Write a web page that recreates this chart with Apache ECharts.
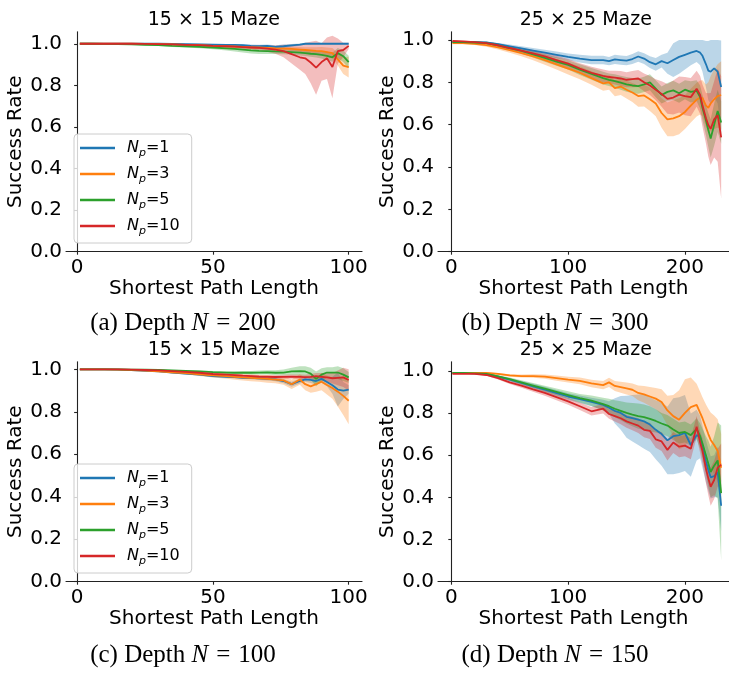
<!DOCTYPE html>
<html><head><meta charset="utf-8">
<script src="https://cdn.jsdelivr.net/npm/echarts@6/dist/echarts.min.js"></script>
<style>html,body{margin:0;padding:0;background:#fff}#c{width:729px;height:673px}</style>
</head><body><div id="c"></div>
<script>
// ---------- data ----------
const SERIES_NAMES = ['Np=1', 'Np=3', 'Np=5', 'Np=10'];
const COLORS = ['#1f77b4', '#ff7f0e', '#2ca02c', '#d62728'];
const Y_TICKS = [0, 0.2, 0.4, 0.6, 0.8, 1.0];
const X_TICKS_15 = [0, 50, 100];
const X_TICKS_25 = [0, 100, 200];
const PANEL_TITLES = ['15 × 15 Maze', '25 × 25 Maze', '15 × 15 Maze', '25 × 25 Maze'];
const CAPTION_LABELS = ['(a)', '(b)', '(c)', '(d)'];
const CAPTION_DEPTHS = ['200', '300', '100', '150'];

const X_15 = [1,5,10,15,20,25,30,35,40,45,50,55,58,61,64,67,70,73,76,79,82,84,86,88,90,92,94,96,98,100];
const X_25 = [1,10,20,30,40,50,60,70,80,90,100,110,120,130,135,140,145,150,155,160,165,170,175,180,185,190,195,200,205,210,213,215,218,220,222,225,228,231];

// (a) 15x15, depth 200
const A_NP1  = [1,1,1,1,1,1,1,0.999,0.998,0.997,0.996,0.995,0.994,0.993,0.99,0.988,0.99,0.985,0.988,0.992,0.996,1,1,1,1,1,1,1,1,1];
const A_NP1_ERR = [0,0,0,0,0,0,0.001,0.002,0.002,0.003,0.003,0.004,0.004,0.005,0.006,0.007,0.007,0.008,0.008,0.007,0.005,0.003,0.002,0,0,0,0,0,0,0];
const A_NP3  = [1,1,1,1,1,0.999,0.998,0.997,0.995,0.993,0.99,0.988,0.987,0.985,0.983,0.982,0.98,0.978,0.977,0.975,0.972,0.97,0.968,0.966,0.965,0.96,0.955,0.925,0.895,0.888];
const A_NP3_ERR = [0,0,0,0,0,0.001,0.002,0.003,0.003,0.004,0.005,0.005,0.006,0.006,0.007,0.007,0.008,0.008,0.009,0.01,0.012,0.013,0.015,0.017,0.02,0.022,0.025,0.03,0.04,0.05];
const A_NP5  = [1,1,0.999,0.998,0.997,0.995,0.993,0.99,0.988,0.985,0.982,0.978,0.975,0.972,0.968,0.966,0.965,0.963,0.962,0.96,0.957,0.955,0.952,0.95,0.947,0.942,0.935,0.955,0.94,0.912];
const A_NP5_ERR = [0,0,0.001,0.001,0.002,0.003,0.004,0.005,0.006,0.007,0.008,0.01,0.012,0.014,0.015,0.015,0.014,0.012,0.012,0.012,0.013,0.014,0.015,0.016,0.018,0.02,0.022,0.025,0.028,0.03];
const A_NP10 = [1,1,1,1,1,0.999,0.998,0.997,0.995,0.993,0.99,0.988,0.986,0.984,0.982,0.98,0.977,0.972,0.965,0.95,0.935,0.93,0.91,0.885,0.912,0.93,0.888,0.965,0.97,0.99];
const A_NP10_ERR = [0,0,0,0,0,0.001,0.002,0.003,0.004,0.005,0.006,0.007,0.008,0.009,0.01,0.012,0.015,0.02,0.03,0.045,0.06,0.075,0.1,0.13,0.09,0.1,0.15,0.06,0.035,0.015];

// (b) 25x25, depth 300
const B_NP1  = [0.99,0.99,0.99,0.988,0.98,0.97,0.96,0.95,0.94,0.93,0.92,0.912,0.905,0.905,0.9,0.908,0.905,0.902,0.91,0.922,0.912,0.895,0.885,0.9,0.89,0.905,0.92,0.93,0.94,0.948,0.94,0.925,0.885,0.855,0.85,0.866,0.85,0.778];
const B_NP1_ERR = [0.003,0.003,0.003,0.004,0.006,0.008,0.01,0.012,0.014,0.015,0.016,0.018,0.02,0.02,0.02,0.022,0.022,0.022,0.024,0.025,0.025,0.028,0.03,0.03,0.05,0.08,0.08,0.07,0.06,0.052,0.06,0.075,0.11,0.14,0.15,0.134,0.15,0.22];
const B_NP3  = [0.985,0.985,0.982,0.976,0.965,0.952,0.938,0.922,0.905,0.885,0.865,0.845,0.82,0.795,0.8,0.772,0.78,0.765,0.752,0.735,0.738,0.72,0.7,0.655,0.625,0.63,0.64,0.66,0.69,0.718,0.728,0.725,0.69,0.68,0.7,0.72,0.735,0.74];
const B_NP3_ERR = [0.005,0.005,0.006,0.008,0.01,0.012,0.015,0.018,0.022,0.025,0.028,0.03,0.032,0.035,0.035,0.038,0.04,0.042,0.045,0.05,0.052,0.055,0.06,0.07,0.08,0.085,0.085,0.08,0.08,0.08,0.08,0.085,0.1,0.12,0.13,0.14,0.15,0.16];
const B_NP5  = [0.99,0.99,0.988,0.985,0.975,0.962,0.948,0.932,0.915,0.898,0.882,0.86,0.84,0.82,0.812,0.806,0.798,0.79,0.785,0.782,0.79,0.8,0.77,0.74,0.755,0.762,0.748,0.765,0.755,0.76,0.73,0.68,0.62,0.575,0.535,0.6,0.665,0.61];
const B_NP5_ERR = [0.003,0.003,0.004,0.006,0.008,0.01,0.012,0.015,0.018,0.02,0.022,0.025,0.028,0.03,0.03,0.032,0.033,0.035,0.035,0.036,0.036,0.038,0.04,0.04,0.042,0.045,0.045,0.045,0.05,0.05,0.055,0.06,0.07,0.08,0.09,0.1,0.1,0.1];
const B_NP10 = [0.995,0.993,0.99,0.985,0.975,0.962,0.95,0.937,0.922,0.905,0.888,0.865,0.845,0.83,0.825,0.822,0.818,0.812,0.815,0.818,0.8,0.785,0.765,0.745,0.722,0.728,0.742,0.735,0.73,0.77,0.74,0.69,0.63,0.598,0.58,0.625,0.645,0.54];
const B_NP10_ERR = [0.003,0.003,0.004,0.006,0.008,0.01,0.012,0.015,0.018,0.02,0.022,0.025,0.028,0.03,0.03,0.032,0.035,0.035,0.038,0.04,0.042,0.045,0.05,0.06,0.07,0.08,0.085,0.09,0.09,0.085,0.09,0.1,0.12,0.15,0.17,0.18,0.22,0.29];

// (c) 15x15, depth 100
const C_NP1  = [1,1,1,0.999,0.997,0.993,0.99,0.985,0.98,0.975,0.968,0.965,0.963,0.96,0.96,0.958,0.955,0.953,0.945,0.93,0.945,0.953,0.95,0.945,0.955,0.94,0.925,0.905,0.9,0.905];
const C_NP1_ERR = [0,0,0,0.001,0.002,0.002,0.003,0.003,0.004,0.004,0.005,0.005,0.006,0.006,0.007,0.008,0.008,0.009,0.01,0.012,0.012,0.012,0.014,0.016,0.018,0.02,0.04,0.08,0.04,0.02];
const C_NP3  = [1,1,1,0.999,0.997,0.994,0.99,0.986,0.982,0.977,0.972,0.968,0.965,0.962,0.96,0.958,0.955,0.952,0.948,0.93,0.952,0.93,0.92,0.93,0.942,0.926,0.912,0.895,0.875,0.852];
const C_NP3_ERR = [0,0,0,0.001,0.002,0.003,0.004,0.005,0.006,0.008,0.01,0.012,0.014,0.015,0.016,0.017,0.018,0.018,0.02,0.022,0.025,0.028,0.03,0.035,0.04,0.045,0.05,0.07,0.09,0.11];
const C_NP5  = [1,1,1,1,0.999,0.998,0.997,0.995,0.993,0.99,0.987,0.985,0.984,0.985,0.984,0.985,0.986,0.984,0.985,0.99,0.992,0.99,0.98,0.955,0.975,0.985,0.985,0.985,0.975,0.962];
const C_NP5_ERR = [0,0,0,0,0.001,0.001,0.002,0.002,0.003,0.004,0.005,0.006,0.006,0.007,0.008,0.009,0.01,0.012,0.014,0.018,0.022,0.025,0.028,0.035,0.03,0.025,0.025,0.03,0.03,0.025];
const C_NP10 = [1,1,1,1,0.999,0.997,0.995,0.992,0.988,0.984,0.978,0.975,0.973,0.97,0.968,0.966,0.965,0.964,0.965,0.966,0.965,0.963,0.965,0.968,0.965,0.962,0.958,0.96,0.962,0.95];
const C_NP10_ERR = [0,0,0,0,0.001,0.002,0.003,0.003,0.004,0.004,0.005,0.005,0.006,0.006,0.007,0.007,0.008,0.008,0.009,0.01,0.011,0.012,0.013,0.015,0.018,0.02,0.025,0.035,0.045,0.05];

// (d) 25x25, depth 150
const D_NP1  = [0.99,0.99,0.988,0.985,0.972,0.958,0.942,0.926,0.91,0.894,0.878,0.865,0.852,0.838,0.825,0.81,0.8,0.782,0.775,0.768,0.76,0.745,0.72,0.7,0.67,0.69,0.695,0.705,0.648,0.695,0.685,0.64,0.57,0.53,0.495,0.5,0.52,0.36];
const D_NP1_ERR = [0.002,0.002,0.003,0.004,0.006,0.008,0.01,0.012,0.014,0.015,0.016,0.018,0.02,0.025,0.03,0.06,0.08,0.1,0.11,0.12,0.13,0.13,0.14,0.15,0.16,0.18,0.18,0.18,0.15,0.12,0.1,0.1,0.1,0.1,0.1,0.1,0.12,0.12];
const D_NP3  = [0.99,0.99,0.99,0.99,0.985,0.978,0.975,0.975,0.972,0.965,0.958,0.952,0.94,0.932,0.945,0.928,0.922,0.916,0.91,0.895,0.888,0.878,0.868,0.852,0.812,0.785,0.768,0.8,0.828,0.838,0.8,0.775,0.73,0.7,0.672,0.648,0.62,0.54];
const D_NP3_ERR = [0.003,0.003,0.003,0.004,0.005,0.006,0.007,0.008,0.01,0.012,0.014,0.016,0.018,0.02,0.022,0.024,0.026,0.028,0.03,0.035,0.04,0.045,0.05,0.06,0.07,0.1,0.14,0.16,0.14,0.1,0.1,0.1,0.11,0.12,0.13,0.14,0.15,0.16];
const D_NP5  = [0.99,0.99,0.988,0.985,0.973,0.96,0.945,0.93,0.915,0.9,0.885,0.87,0.858,0.842,0.832,0.82,0.81,0.8,0.792,0.785,0.78,0.772,0.762,0.75,0.74,0.722,0.705,0.71,0.695,0.725,0.69,0.655,0.6,0.56,0.52,0.55,0.575,0.42];
const D_NP5_ERR = [0.002,0.002,0.003,0.004,0.006,0.008,0.01,0.012,0.014,0.016,0.018,0.02,0.025,0.03,0.035,0.04,0.045,0.05,0.055,0.06,0.06,0.06,0.055,0.05,0.05,0.05,0.05,0.05,0.05,0.05,0.06,0.07,0.09,0.11,0.12,0.14,0.18,0.32];
const D_NP10 = [0.985,0.985,0.985,0.98,0.965,0.945,0.93,0.912,0.895,0.875,0.855,0.832,0.808,0.82,0.795,0.785,0.775,0.76,0.75,0.74,0.72,0.715,0.675,0.665,0.625,0.66,0.64,0.645,0.63,0.735,0.66,0.62,0.535,0.49,0.45,0.482,0.54,0.555];
const D_NP10_ERR = [0.002,0.002,0.003,0.004,0.006,0.008,0.01,0.012,0.014,0.015,0.016,0.018,0.02,0.022,0.022,0.025,0.028,0.03,0.032,0.035,0.035,0.038,0.04,0.045,0.05,0.05,0.05,0.05,0.05,0.05,0.05,0.06,0.07,0.08,0.09,0.09,0.09,0.1];

// ---------- layout ----------
const FONT = 'DejaVu Sans';
const GRIDS = [
  {left: 66,  top: 31.7,  width: 296, height: 220},
  {left: 438, top: 31.7,  width: 291, height: 220},
  {left: 66,  top: 361.7, width: 296, height: 220},
  {left: 438, top: 361.7, width: 291, height: 220}
];
const panels = [
  {x: X_15, means: [A_NP1, A_NP3, A_NP5, A_NP10], errs: [A_NP1_ERR, A_NP3_ERR, A_NP5_ERR, A_NP10_ERR], xmin: -4.1, xmax: 104.9, ticks: X_TICKS_15, ymax: 1.058},
  {x: X_25, means: [B_NP1, B_NP3, B_NP5, B_NP10], errs: [B_NP1_ERR, B_NP3_ERR, B_NP5_ERR, B_NP10_ERR], xmin: -11.4, xmax: 237.7, ticks: X_TICKS_25, ymax: 1.039},
  {x: X_15, means: [C_NP1, C_NP3, C_NP5, C_NP10], errs: [C_NP1_ERR, C_NP3_ERR, C_NP5_ERR, C_NP10_ERR], xmin: -4.1, xmax: 104.9, ticks: X_TICKS_15, ymax: 1.036},
  {x: X_25, means: [D_NP1, D_NP3, D_NP5, D_NP10], errs: [D_NP1_ERR, D_NP3_ERR, D_NP5_ERR, D_NP10_ERR], xmin: -11.4, xmax: 237.7, ticks: X_TICKS_25, ymax: 1.043}
];

const axisLineStyle = {color: '#222', width: 1.1};
const xAxes = [], yAxes = [], series = [];

function bandSeries(pi, xs, lo, hi, color) {
  return {
    type: 'custom', xAxisIndex: pi, yAxisIndex: pi, silent: true, z: 1, clip: true,
    data: xs.map((xv, i) => [xv, lo[i], hi[i]]),
    encode: {x: 0, y: [1, 2]},
    renderItem: (params, api) => {
      if (params.dataIndex !== 0) return null;
      const pts = [];
      for (let i = 0; i < xs.length; i++) pts.push(api.coord([xs[i], lo[i]]));
      for (let i = xs.length - 1; i >= 0; i--) pts.push(api.coord([xs[i], hi[i]]));
      return {type: 'polygon', shape: {points: pts}, style: {fill: color, opacity: 0.3}};
    }
  };
}

panels.forEach((p, pi) => {
  xAxes.push({
    type: 'value', gridIndex: pi, min: p.xmin, max: p.xmax,
    name: 'Shortest Path Length', nameLocation: 'middle', nameGap: 22,
    nameTextStyle: {fontFamily: FONT, fontSize: 20, color: '#000'},
    axisLine: {show: true, lineStyle: axisLineStyle},
    axisTick: {show: true, length: 3, lineStyle: axisLineStyle, customValues: p.ticks},
    axisLabel: {fontFamily: FONT, fontSize: 20, color: '#000', margin: 6, customValues: p.ticks},
    splitLine: {show: false}
  });
  yAxes.push({
    type: 'value', gridIndex: pi, min: 0, max: p.ymax,
    name: 'Success Rate', nameLocation: 'middle', nameGap: 39,
    nameTextStyle: {fontFamily: FONT, fontSize: 20, color: '#000'},
    axisLine: {show: true, lineStyle: axisLineStyle},
    axisTick: {show: true, length: 3, lineStyle: axisLineStyle, customValues: Y_TICKS},
    axisLabel: {fontFamily: FONT, fontSize: 20, color: '#000', margin: 4, customValues: Y_TICKS,
      formatter: v => v.toFixed(1)},
    splitLine: {show: false}
  });
  p.means.forEach((m, k) => {
    const e = p.errs[k];
    series.push(bandSeries(pi, p.x, m.map((v, i) => v - e[i]), m.map((v, i) => v + e[i]), COLORS[k]));
  });
  p.means.forEach((m, k) => {
    series.push({
      type: 'line', name: SERIES_NAMES[k], xAxisIndex: pi, yAxisIndex: pi,
      symbol: 'none', z: 3,
      itemStyle: {color: COLORS[k]},
      lineStyle: {color: COLORS[k], width: 1.8},
      data: p.x.map((xv, i) => [xv, m[i]])
    });
  });
});

const legendCommon = {
  data: SERIES_NAMES, orient: 'vertical', left: 74,
  icon: 'rect', itemWidth: 35, itemHeight: 2.4, itemGap: 7,
  padding: [6, 12, 6, 6],
  borderColor: '#cccccc', borderWidth: 1, borderRadius: 4,
  backgroundColor: 'rgba(255,255,255,0.8)',
  selectedMode: false,
  formatter: name => '{n|N}{p|p}{t|=' + name.split('=')[1] + '}',
  textStyle: {
    fontFamily: FONT, fontSize: 16, color: '#000', padding: [0, 0, 0, 7],
    rich: {
      n: {fontFamily: FONT, fontSize: 16, fontStyle: 'italic', lineHeight: 22, verticalAlign: 'middle'},
      p: {fontFamily: FONT, fontSize: 11, fontStyle: 'italic', lineHeight: 11, verticalAlign: 'bottom'},
      t: {fontFamily: FONT, fontSize: 16, lineHeight: 22, verticalAlign: 'middle'}
    }
  }
};

const titleCenters = [[213.8, 20], [585.8, 20], [213.8, 350], [585.8, 350]];
const captionCenters = [[183, 323], [555, 323], [183, 655], [555, 655]];
const graphics = [];
PANEL_TITLES.forEach((t, i) => {
  graphics.push({type: 'text', x: titleCenters[i][0], y: titleCenters[i][1], silent: true,
    style: {text: t, fontFamily: FONT, fontSize: 19, fill: '#000',
      textAlign: 'center', textVerticalAlign: 'middle', align: 'center', verticalAlign: 'middle'}});
});
CAPTION_LABELS.forEach((lab, i) => {
  graphics.push({type: 'text', x: captionCenters[i][0], y: captionCenters[i][1], silent: true,
    style: {text: lab + ' Depth {i|N}{e|=}' + CAPTION_DEPTHS[i],
      fontFamily: 'Liberation Serif', fontSize: 25, fill: '#000',
      textAlign: 'center', textVerticalAlign: 'middle', align: 'center', verticalAlign: 'middle',
      rich: {
        i: {fontFamily: 'Liberation Serif', fontSize: 25, fontStyle: 'italic'},
        e: {fontFamily: 'Liberation Serif', fontSize: 25, padding: [0, 8, 0, 8]}
      }}});
});

const chart = echarts.init(document.getElementById('c'), null, {renderer: 'canvas'});
chart.setOption({
  animation: false,
  backgroundColor: '#fff',
  grid: GRIDS,
  xAxis: xAxes,
  yAxis: yAxes,
  legend: [Object.assign({}, legendCommon, {top: 134}), Object.assign({}, legendCommon, {top: 464})],
  graphic: graphics,
  series: series
});
</script></body></html>
